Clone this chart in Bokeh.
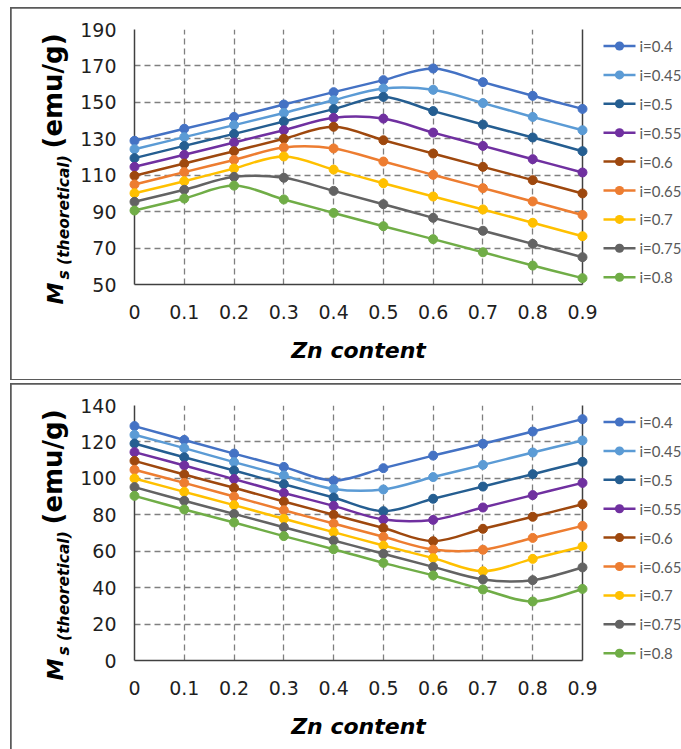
import math
from bokeh.plotting import figure
from bokeh.layouts import column
from bokeh.models import FixedTicker, ColumnDataSource, Range1d
from bokeh.core.properties import value
from bokeh.embed import file_html
from bokeh.resources import INLINE

# ---------------- data ----------------
zn = [0.0, 0.1, 0.2, 0.3, 0.4, 0.5, 0.6, 0.7, 0.8, 0.9]
x_tick_labels = ["0", "0.1", "0.2", "0.3", "0.4", "0.5", "0.6", "0.7", "0.8", "0.9"]
series_labels = ["i=0.4", "i=0.45", "i=0.5", "i=0.55", "i=0.6", "i=0.65", "i=0.7", "i=0.75", "i=0.8"]
colors = ["#4472C4", "#5B9BD5", "#255E91", "#7030A0", "#9E480E",
          "#ED7D31", "#FFC000", "#636363", "#70AD47"]

top_y_ticks = [50, 70, 90, 110, 130, 150, 170, 190]
bottom_y_ticks = [0, 20, 40, 60, 80, 100, 120, 140]

top_i040 = [128.9, 135.5, 142.0, 148.8, 155.6, 162.2, 168.6, 161.1, 153.6, 146.4]
top_i045 = [124.3, 130.9, 137.5, 144.2, 151.2, 157.6, 156.9, 149.6, 142.0, 134.7]
top_i050 = [119.4, 126.1, 132.7, 139.5, 146.3, 153.0, 145.2, 137.8, 130.7, 123.2]
top_i055 = [114.6, 121.2, 128.0, 134.7, 141.5, 141.1, 133.4, 126.1, 118.8, 111.5]
top_i060 = [109.7, 116.4, 123.2, 130.0, 136.6, 129.2, 121.9, 114.6, 107.3, 100.0]
top_i065 = [104.9, 111.7, 118.4, 125.2, 124.7, 117.5, 110.2, 102.9, 95.6, 88.2]
top_i070 = [100.1, 106.7, 113.7, 120.3, 113.1, 105.6, 98.3, 91.2, 83.9, 76.5]
top_i075 = [95.4, 102.0, 109.1, 108.6, 101.4, 94.1, 86.6, 79.5, 72.3, 65.0]
top_i080 = [90.6, 97.2, 104.3, 96.7, 89.3, 82.0, 74.9, 67.7, 60.4, 53.5]

bot_i040 = [128.7, 121.1, 113.6, 106.3, 98.8, 105.6, 112.5, 119.0, 125.7, 132.5]
bot_i045 = [123.9, 116.6, 108.9, 101.6, 94.2, 93.9, 100.7, 107.4, 114.2, 120.8]
bot_i050 = [119.1, 111.6, 104.3, 96.8, 89.5, 82.0, 88.8, 95.5, 102.3, 109.1]
bot_i055 = [114.4, 107.1, 99.6, 92.0, 84.9, 77.4, 77.2, 84.0, 90.8, 97.5]
bot_i060 = [109.6, 102.1, 94.8, 87.3, 80.0, 72.7, 65.5, 72.3, 78.9, 85.8]
bot_i065 = [104.7, 97.5, 90.0, 82.5, 75.2, 67.9, 60.9, 60.8, 67.3, 73.9]
bot_i070 = [99.9, 92.6, 85.3, 77.8, 70.5, 63.1, 56.2, 49.0, 55.8, 62.6]
bot_i075 = [95.2, 87.7, 80.5, 73.2, 65.9, 58.6, 51.4, 44.5, 44.1, 51.1]
bot_i080 = [90.4, 82.9, 75.8, 68.3, 61.1, 53.6, 46.7, 39.0, 32.4, 39.3]

top_series = [top_i040, top_i045, top_i050, top_i055, top_i060,
              top_i065, top_i070, top_i075, top_i080]
bot_series = [bot_i040, bot_i045, bot_i050, bot_i055, bot_i060,
              bot_i065, bot_i070, bot_i075, bot_i080]


def smooth_segments(xs, ys):
    """Bezier control points (Catmull-Rom style) for a smoothed line through the points."""
    n = len(xs)
    d = dict(x0=[], y0=[], x1=[], y1=[], cx0=[], cy0=[], cx1=[], cy1=[])
    for i in range(n - 1):
        p_prev = max(i - 1, 0)
        p_next2 = min(i + 2, n - 1)
        d["x0"].append(xs[i]); d["y0"].append(ys[i])
        d["x1"].append(xs[i + 1]); d["y1"].append(ys[i + 1])
        d["cx0"].append(xs[i] + (xs[i + 1] - xs[p_prev]) / 6.0)
        d["cy0"].append(ys[i] + (ys[i + 1] - ys[p_prev]) / 6.0)
        d["cx1"].append(xs[i + 1] - (xs[p_next2] - xs[i]) / 6.0)
        d["cy1"].append(ys[i + 1] - (ys[p_next2] - ys[i]) / 6.0)
    return d


TICK_FONT = "DejaVu Sans"
TITLE_FONT = "DejaVu Sans"
FRAME_W = 448
FRAME_H = 255
MARKER_SIZE = 9
LINE_W = 2.5


def make_panel(series, yticks, height, margin, bottom_border):
    p = figure(width=670, height=height, output_backend="svg", toolbar_location=None,
               x_range=Range1d(zn[0], zn[-1]), y_range=Range1d(yticks[0], yticks[-1]),
               min_border_left=123, min_border_right=99, min_border_top=21,
               min_border_bottom=bottom_border,
               background_fill_color="white", border_fill_color="white")
    p.margin = margin
    p.styles = {"outline": "2px solid #5a5a5a", "outline-offset": "-1px"}
    p.outline_line_color = None
    # pixel-based helper ranges (relative to the plot frame) for titles and legend
    p.extra_x_ranges = {"px": Range1d(0, FRAME_W)}
    p.extra_y_ranges = {"px": Range1d(0, FRAME_H)}

    # axes
    p.xaxis.ticker = FixedTicker(ticks=zn)
    p.xaxis.major_label_overrides = {v: s for v, s in zip(zn, x_tick_labels)}
    p.yaxis.ticker = FixedTicker(ticks=yticks)
    for ax in (p.xaxis[0], p.yaxis[0]):
        ax.axis_line_color = "#404040"
        ax.axis_line_width = 1.5
        ax.major_tick_in = 0
        ax.major_tick_out = 0
        ax.minor_tick_in = 0
        ax.minor_tick_out = 0
        ax.major_label_text_font = TICK_FONT
        ax.major_label_text_font_size = "19px"
        ax.major_label_text_color = "#1f1f1f"
    p.yaxis.major_label_standoff = 18
    p.xaxis.major_label_standoff = 20

    # grid
    p.xgrid.ticker = FixedTicker(ticks=zn)
    p.ygrid.ticker = FixedTicker(ticks=yticks)
    for g in (p.xgrid[0], p.ygrid[0]):
        g.grid_line_color = "#7f7f7f"
        g.grid_line_dash = "6 4"
        g.grid_line_width = 1.3

    # right edge of the plot area
    p.segment(x0=[zn[-1]], y0=[yticks[0]], x1=[zn[-1]], y1=[yticks[-1]],
              line_color="#404040", line_width=1.5, level="overlay")

    for ys, col in zip(series, colors):
        seg = ColumnDataSource(smooth_segments(zn, ys))
        p.bezier(x0="x0", y0="y0", x1="x1", y1="y1", cx0="cx0", cy0="cy0",
                 cx1="cx1", cy1="cy1", source=seg, line_color=col, line_width=LINE_W)
        p.scatter(x=zn, y=ys, size=MARKER_SIZE, fill_color=col, line_color=col,
                  marker="circle", level="overlay")

    # legend (drawn to the right of the plot area, in frame pixel units)
    n = len(series_labels)
    leg_y = [238.5 - 28.9 * k for k in range(n)]
    px = dict(x_range_name="px", y_range_name="px", level="overlay")
    p.segment(x0=[469] * n, y0=leg_y, x1=[501] * n, y1=leg_y, line_color=colors,
              line_width=LINE_W, **px)
    # legend markers: round-capped very short strokes
    p.segment(x0=[484.9] * n, y0=leg_y, x1=[485.1] * n, y1=leg_y, line_color=colors,
              line_width=MARKER_SIZE, line_cap="round", **px)
    p.text(x=[505] * n, y=leg_y, text=series_labels, text_align="left",
           text_baseline="middle", text_font=value("Lato"), text_font_size="15px",
           text_color="#595959", **px)

    # axis titles (positions in pixels relative to the frame's lower-left corner)
    common = dict(text_font=value(TITLE_FONT), text_color="black", **px)
    p.text(x=[224], y=[-66], text=["Zn content"], text_align="center",
           text_baseline="alphabetic", text_font_style="bold italic",
           text_font_size="22px", **common)
    p.text(x=[-79], y=[-20], text=["M"], angle=math.pi / 2, text_align="left",
           text_baseline="alphabetic", text_font_style="bold italic",
           text_font_size="22px", **common)
    p.text(x=[-71], y=[5], text=["s (theoretical)"], angle=math.pi / 2, text_align="left",
           text_baseline="alphabetic", text_font_style="bold italic",
           text_font_size="15.5px", **common)
    p.text(x=[-82], y=[136], text=["(emu/g)"], angle=math.pi / 2, text_align="left",
           text_baseline="alphabetic", text_font_style="bold",
           text_font_size="26px", **common)
    return p


p1 = make_panel(top_series, top_y_ticks, 371, (8, 0, 0, 11), 95)
p2 = make_panel(bot_series, bottom_y_ticks, 365, (5, 0, 0, 11), 89)

layout = column(p1, p2, spacing=0)
open("out.html", "w").write(file_html(layout, INLINE))
